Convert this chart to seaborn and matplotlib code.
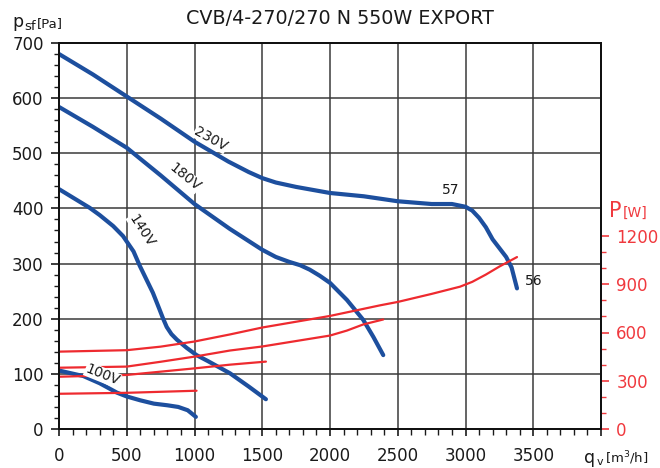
import matplotlib
matplotlib.use("Agg")
import matplotlib.pyplot as plt
import seaborn as sns
import numpy as np
from matplotlib.ticker import MultipleLocator, FixedLocator

# ---------------- data ----------------
title = "CVB/4-270/270 N 550W EXPORT"

# pressure curves [m3/h] -> [Pa]
q_230 = [0, 250, 500, 750, 1000, 1250, 1400, 1500, 1600, 1750, 2000, 2250, 2500, 2750, 2900, 3000, 3050, 3100, 3150, 3200, 3250, 3300, 3340, 3380]
p_230 = [680, 643, 603, 563, 521, 485, 466, 455, 447, 439, 428, 422, 413, 408, 408, 403, 396, 383, 366, 344, 328, 312, 293, 255]

q_180 = [0, 250, 500, 750, 1000, 1260, 1500, 1600, 1700, 1780, 1850, 1924, 2000, 2125, 2245, 2320, 2393]
p_180 = [584, 548, 510, 460, 408, 363, 325, 312, 303, 297, 289, 278, 265, 234, 198, 167, 134]

q_140 = [0, 227, 300, 400, 472, 550, 596, 693, 740, 767, 795, 830, 870, 943, 1015, 1100, 1262, 1400, 1527]
p_140 = [435, 401, 388, 368, 350, 322, 296, 247, 218, 201, 185, 172, 162, 147, 134, 123, 101, 77, 54]

q_100 = [0, 180, 300, 427, 500, 600, 700, 800, 880, 950, 1010]
p_100 = [106, 96, 83, 66, 59, 52, 46, 43, 40, 34, 22]

# power curves [m3/h] -> [W]
qw_230 = [0, 500, 750, 1000, 1262, 1500, 2000, 2370, 2500, 2750, 2960, 3050, 3150, 3250, 3380]
w_230 = [481, 490, 512, 544, 588, 631, 703, 769, 790, 840, 885, 915, 960, 1010, 1069]

qw_180 = [0, 500, 750, 1000, 1262, 1500, 2000, 2125, 2245, 2393]
w_180 = [381, 388, 418, 450, 488, 513, 581, 612, 650, 681]

qw_140 = [0, 500, 1000, 1262, 1527]
w_140 = [325, 336, 377, 400, 419]

qw_100 = [0, 500, 1015]
w_100 = [219, 225, 238]

x_ticks = [0, 500, 1000, 1500, 2000, 2500, 3000, 3500]
y_ticks = [0, 100, 200, 300, 400, 500, 600, 700]
w_ticks = [0, 300, 600, 900, 1200]

curve_labels = ["230V", "180V", "140V", "100V"]
point_labels = ["57", "56"]

# ---------------- style ----------------
sns.set_style("white")
plt.rcParams['font.family'] = ['DejaVu Sans']

BLUE = "#1d4f9e"
RED = "#ee2a2f"
RED_TXT = "#f0393e"
TXT = "#1a1a1a"
GRID = "#3a3a3a"

W, H = 660, 468
fig = plt.figure(figsize=(6.6, 4.68), dpi=100)
L, R, B, T = 59, 601, 429, 43
ax = fig.add_axes([L / W, 1 - B / H, (R - L) / W, (B - T) / H])
ax2 = ax.twinx()

# grid
ax.set_axisbelow(True)
ax.grid(True, which="major", color=GRID, linewidth=1.1)
ax.grid(False, which="minor")

# blue pressure curves
for q, p in [(q_230, p_230), (q_180, p_180), (q_140, p_140), (q_100, p_100)]:
    sns.lineplot(x=q, y=p, ax=ax, color=BLUE, linewidth=3.0, sort=False,
                 solid_capstyle="round", solid_joinstyle="round")

# red power curves
for q, w in [(qw_230, w_230), (qw_180, w_180), (qw_140, w_140), (qw_100, w_100)]:
    sns.lineplot(x=q, y=w, ax=ax2, color=RED, linewidth=1.6, sort=False)

ax.set_ylim(0, 700)
ax2.set_ylim(0, 2400)
ax.set_xlim(0, 4000)

# ticks
ax.xaxis.set_major_locator(FixedLocator(x_ticks + [4000]))
ax.set_xticklabels([str(v) for v in x_ticks] + [""])
ax.xaxis.set_minor_locator(MultipleLocator(100))
ax.yaxis.set_major_locator(FixedLocator(y_ticks))
ax.set_yticklabels([str(v) for v in y_ticks])
ax.yaxis.set_minor_locator(MultipleLocator(20))
ax.tick_params(axis="both", which="both", direction="out", colors=TXT,
               labelsize=12, labelcolor=TXT)
ax.tick_params(axis="y", which="major", length=6, width=1.2, pad=5, left=True)
ax.tick_params(axis="y", which="minor", length=3.5, width=1.0, left=True)
ax.tick_params(axis="x", which="major", length=5, width=1.2, pad=8, bottom=True)
ax.tick_params(axis="x", which="minor", length=4, width=1.0, bottom=True)

ax2.yaxis.set_major_locator(FixedLocator(w_ticks))
ax2.set_yticklabels([str(v) for v in w_ticks])
ax2.yaxis.set_minor_locator(FixedLocator([100, 200, 400, 500, 700, 800, 1000, 1100]))
ax2.tick_params(axis="y", which="both", direction="out", colors=RED_TXT,
                labelsize=12, labelcolor=RED_TXT, right=True)
ax2.tick_params(axis="y", which="major", length=6, width=1.2, pad=5)
ax2.tick_params(axis="y", which="minor", length=3.5, width=1.0)
ax2.set_ylabel("")
ax.set_ylabel("")
ax.set_xlabel("")

for a in (ax, ax2):
    for s in a.spines.values():
        s.set_color("#111111")
        s.set_linewidth(1.4)

# curve labels (on top axis so they mask red lines)
lab_pos = [(1121, 526, -29), (929, 457, -39), (610, 360, -57), (322, 98, -22)]
for txt, (x, y, rot) in zip(curve_labels, lab_pos):
    ax2.text(x, y, txt, transform=ax.transData, rotation=rot, fontsize=10,
             color=TXT, ha="center", va="center", rotation_mode="anchor",
             bbox=dict(facecolor="white", edgecolor="none", pad=0.3), zorder=5)
ax2.text(2887, 434, point_labels[0], transform=ax.transData, fontsize=10,
         color=TXT, ha="center", va="center")
ax2.text(3500, 269, point_labels[1], transform=ax.transData, fontsize=10,
         color=TXT, ha="center", va="center")

# figure texts
def ft(x, y, s, **kw):
    fig.text(x / W, 1 - y / H, s, **kw)

ft(340, 18, title, fontsize=13.8, color=TXT, ha="center", va="center")
ft(12, 27, "p", fontsize=12.5, color=TXT, ha="left", va="baseline")
ft(24, 30, "sf", fontsize=9.5, color=TXT, ha="left", va="baseline")
ft(37, 27, "[Pa]", fontsize=9.5, color=TXT, ha="left", va="baseline")

ft(584, 463, "q", fontsize=12.5, color=TXT, ha="left", va="baseline")
ft(597, 465, "v", fontsize=8, color=TXT, ha="left", va="baseline")
ft(605, 463, "[m$^3$/h]", fontsize=9.5, color=TXT, ha="left", va="baseline")

ft(609, 217, "P", fontsize=15, color=RED_TXT, ha="left", va="baseline")
ft(623, 217, "[W]", fontsize=10, color=RED_TXT, ha="left", va="baseline")

fig.savefig("out.png", dpi=100)
